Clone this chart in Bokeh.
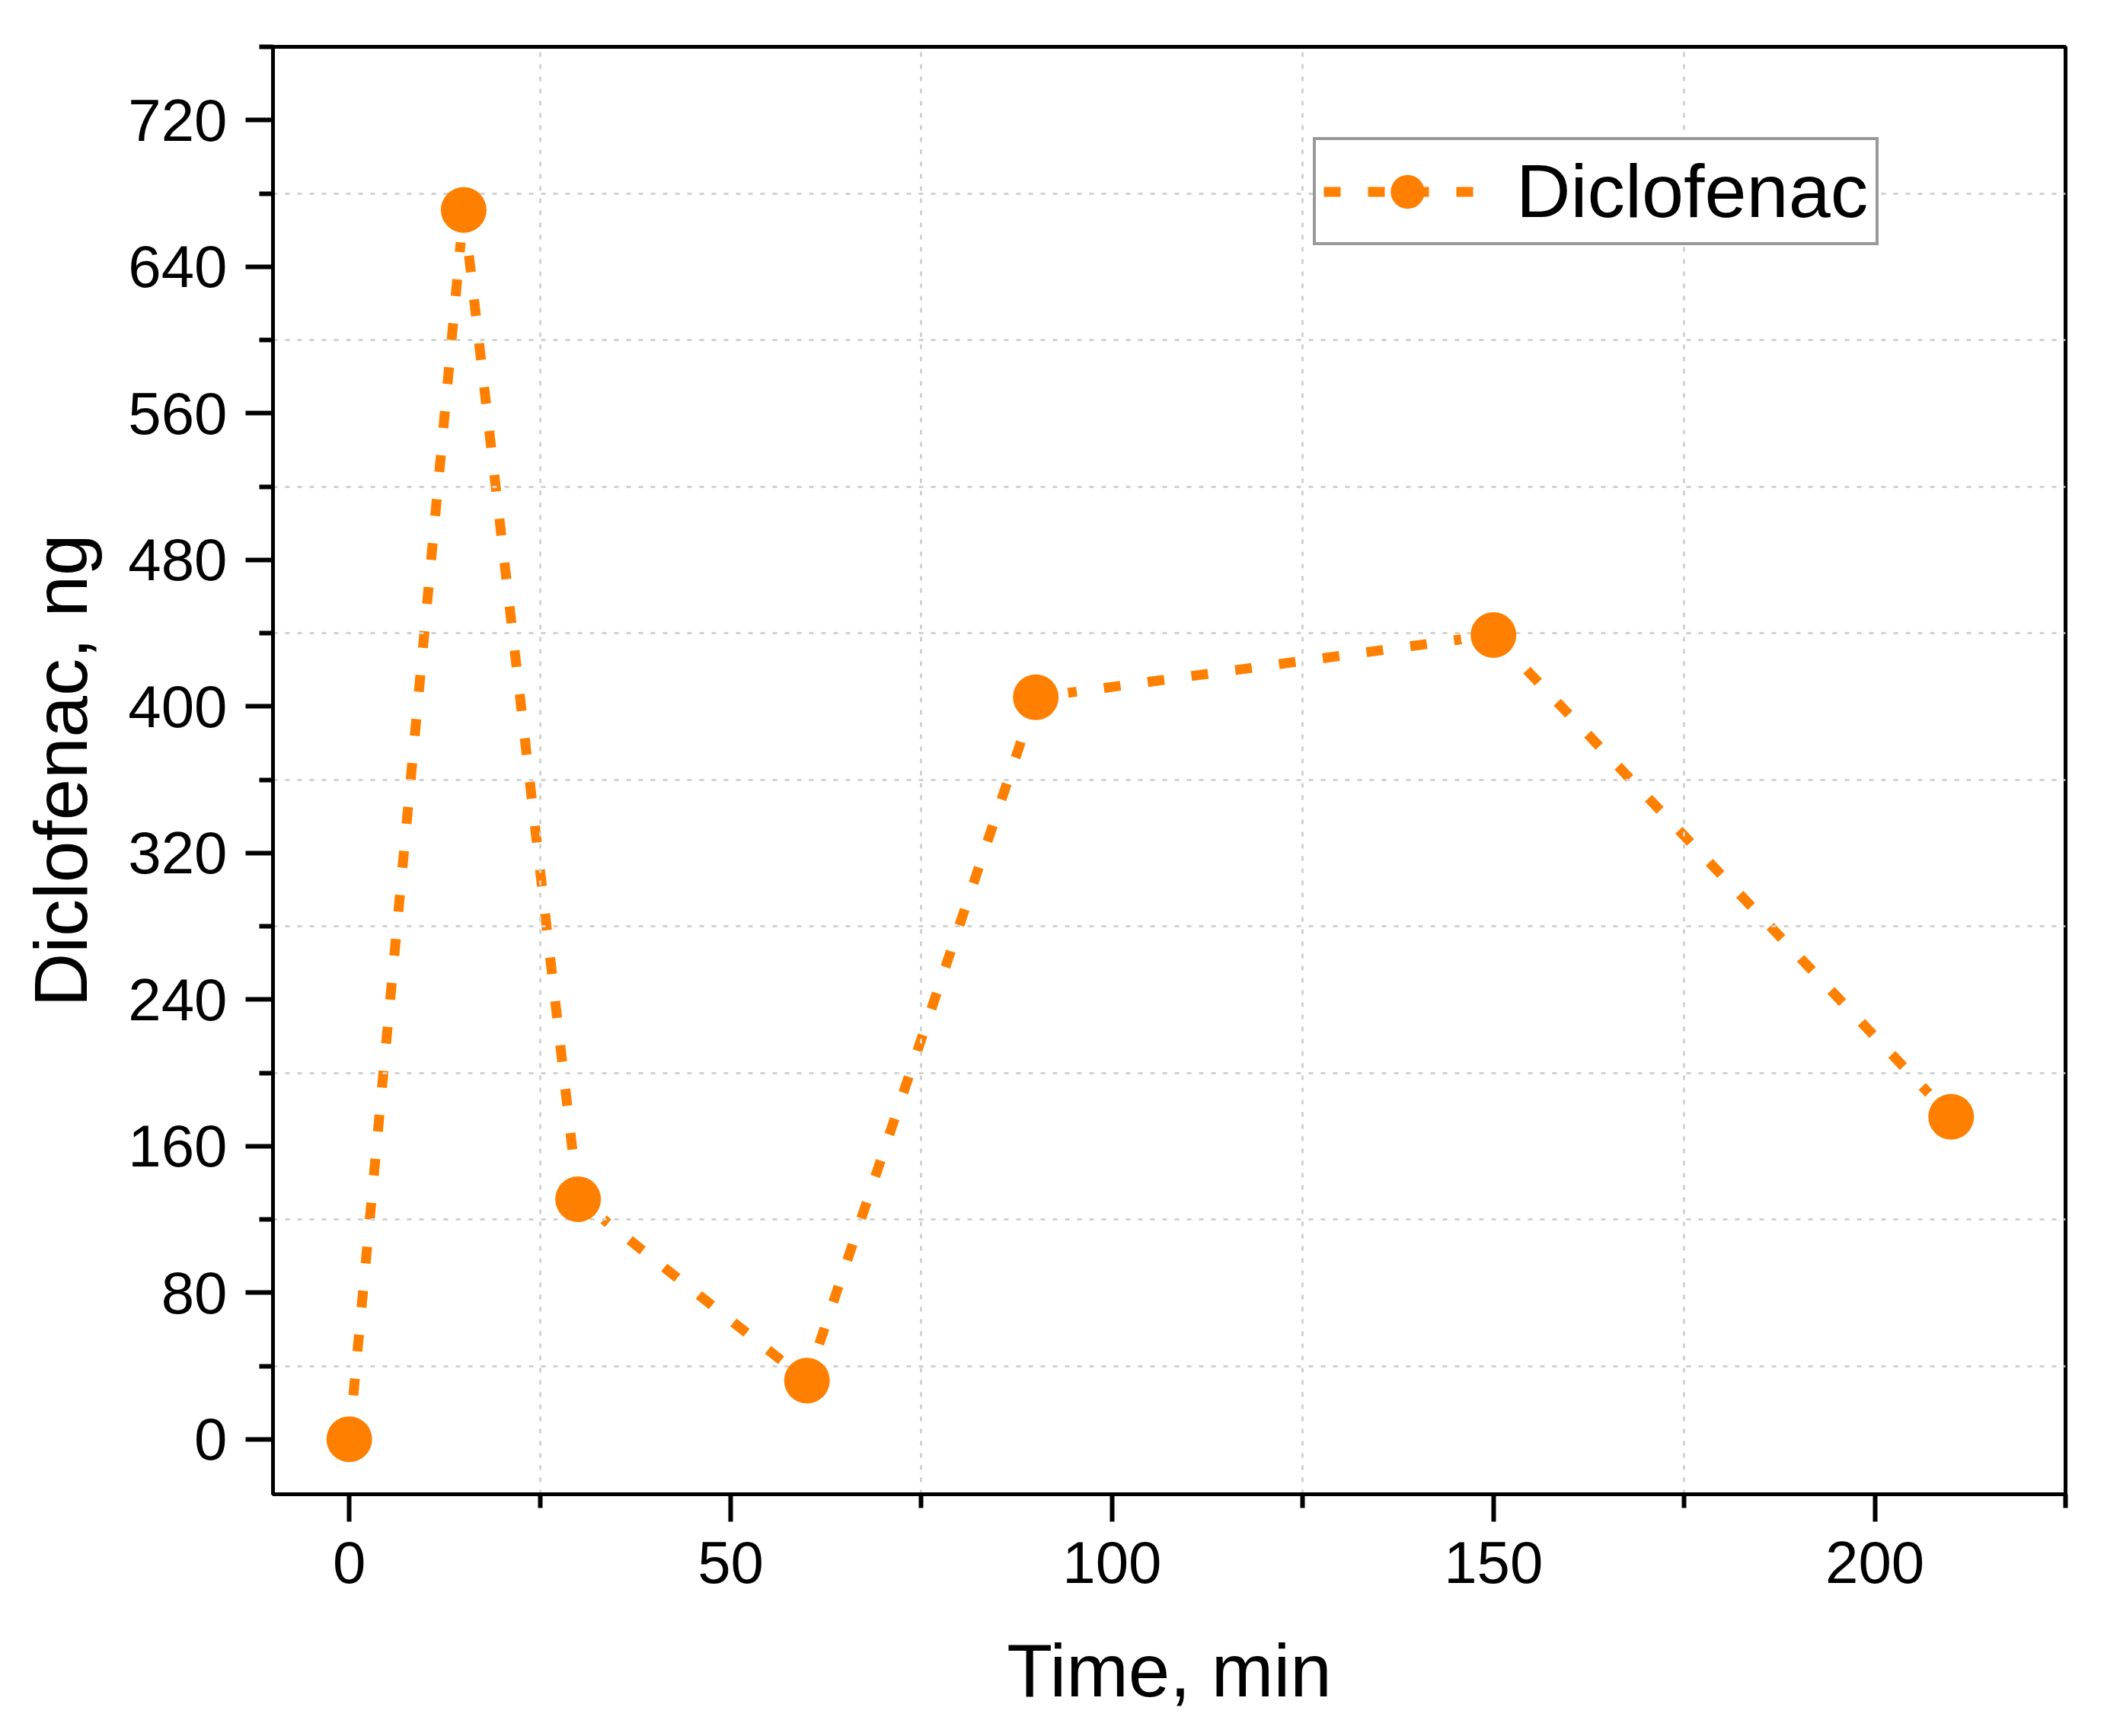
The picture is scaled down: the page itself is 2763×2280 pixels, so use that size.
from bokeh.plotting import figure
from bokeh.models import FixedTicker, Range1d, Legend, LegendItem
from bokeh.embed import file_html
from bokeh.resources import INLINE

# ---- data ----
time_min = [0, 15, 30, 60, 90, 150, 210]
diclofenac_ng = [0, 671, 131, 32, 405, 439, 176]

x_major = [0, 50, 100, 150, 200]
x_minor = [25, 75, 125, 175, 225]
y_major = [0, 80, 160, 240, 320, 400, 480, 560, 640, 720]
y_minor = [40, 120, 200, 280, 360, 440, 520, 600, 680, 760]

ORANGE = "#FF8000"
FONT = "Liberation Sans"

p = figure(frame_width=2354, frame_height=1901,
           x_range=Range1d(-10, 225), y_range=Range1d(-30, 760),
           output_backend="svg", toolbar_location=None,
           min_border_left=358, min_border_right=35,
           min_border_top=61, min_border_bottom=300)
p.background_fill_color = "white"
p.border_fill_color = "white"
p.outline_line_color = "black"
p.outline_line_width = 5

# grid lines sit at the minor tick positions
p.xgrid.ticker = FixedTicker(ticks=x_minor[:-1])
p.ygrid.ticker = FixedTicker(ticks=y_minor[:-1])
for g in (p.xgrid[0], p.ygrid[0]):
    g.grid_line_color = "#d2d2d2"
    g.grid_line_width = 3
    g.grid_line_dash = "6 10"
    g.level = "underlay"

for ax, maj, mino in ((p.xaxis[0], x_major, x_minor), (p.yaxis[0], y_major, y_minor)):
    ax.ticker = FixedTicker(ticks=maj, minor_ticks=mino)
    ax.axis_line_width = 5
    ax.axis_line_color = "black"
    ax.major_tick_line_width = 6
    ax.minor_tick_line_width = 6
    ax.major_tick_out = 36
    ax.major_tick_in = 0
    ax.minor_tick_out = 18
    ax.minor_tick_in = 0
    ax.major_label_text_font = FONT
    ax.major_label_text_font_size = "78px"
    ax.major_label_text_color = "black"
    ax.axis_label_text_font = FONT
    ax.axis_label_text_font_size = "98px"
    ax.axis_label_text_font_style = "normal"
    ax.axis_label_text_color = "black"

p.xaxis.axis_label = "Time, min"
p.yaxis.axis_label = "Diclofenac, ng"
p.xaxis.major_label_standoff = 26
p.yaxis.major_label_standoff = 24
p.xaxis.axis_label_standoff = 57
p.yaxis.axis_label_standoff = 30

line_r = p.line(time_min, diclofenac_ng, line_color=ORANGE, line_width=13,
                line_dash="22 36", level="image")
halo_r = p.scatter(time_min, diclofenac_ng, size=86, fill_color="white",
                   line_color=None, level="image")
pts_r = p.scatter(time_min, diclofenac_ng, size=60, fill_color=ORANGE,
                  line_color=None)

legend = Legend(items=[LegendItem(label="Diclofenac", renderers=[line_r, pts_r])],
                location=(1366, 1640), glyph_width=220, glyph_height=111,
                padding=10, label_standoff=33, margin=0, spacing=0,
                label_text_font=FONT, label_text_font_size="99px",
                label_text_color="black",
                border_line_color="#333333", border_line_width=4,
                background_fill_color="white", background_fill_alpha=1.0)
p.add_layout(legend, "center")

open("out.html", "w").write(file_html(p, INLINE))
